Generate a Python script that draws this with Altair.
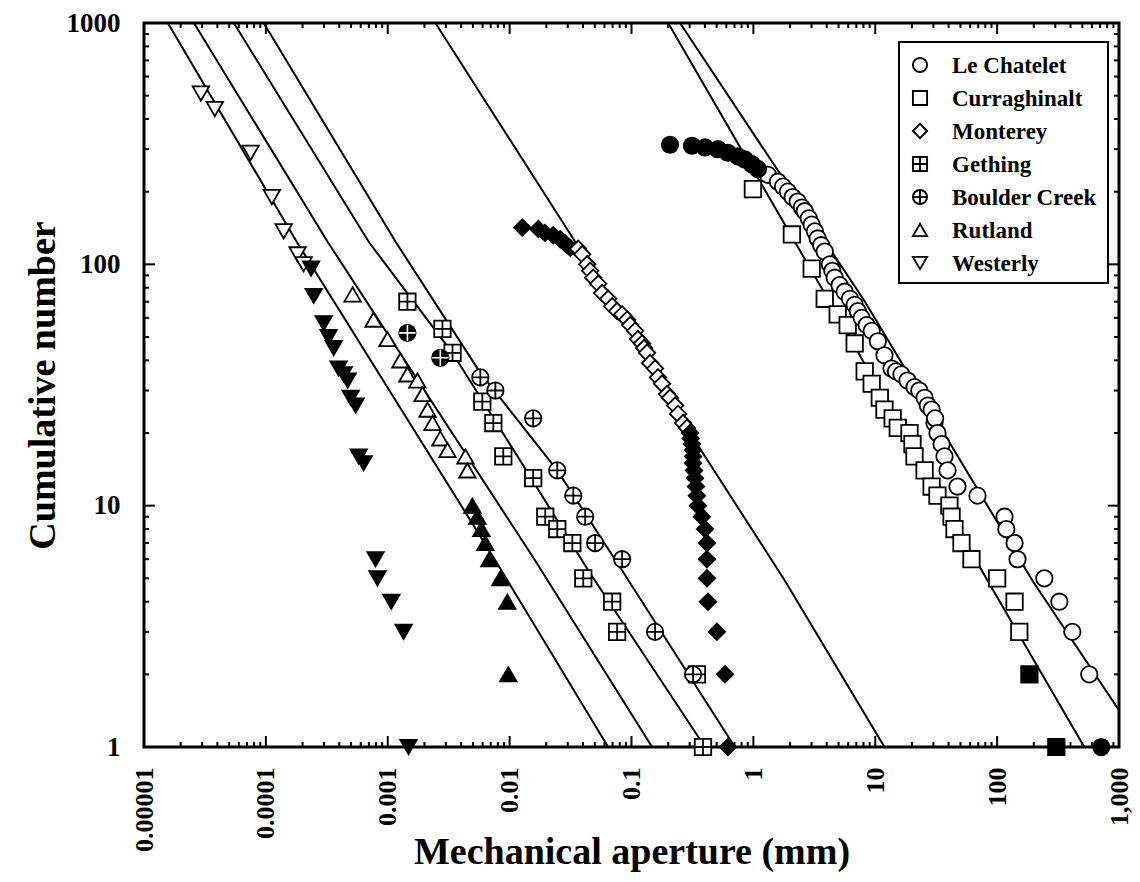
import altair as alt
import pandas as pd

# ---------------- series names / symbols ----------------
NAMES = ["Le Chatelet", "Curraghinalt", "Monterey", "Gething",
         "Boulder Creek", "Rutland", "Westerly"]
SHAPES = ["circle", "square", "diamond",
          "M-1,-1H1V1H-1Z M0,-1V1 M-1,0H1",
          "M-1,0A1,1,0,1,0,1,0A1,1,0,1,0,-1,0Z M0,-1V1 M-1,0H1",
          "triangle-up", "triangle-down"]

# ---------------- data (aperture mm, cumulative number) ----------------
LEC_OPEN_X = [1.315, 1.59, 1.75, 1.92, 2.1, 2.31, 2.5, 2.64, 2.85, 3.01, 3.2, 3.37, 3.6,
              3.85, 4.24, 4.45, 4.65, 5.1, 5.61, 6.2, 6.78, 7.2, 7.74, 8.5, 9.35, 10.5,
              11.9, 13.6, 14.8, 16.4, 18.4, 21, 23, 25.4, 27, 29, 30.6, 31, 32.4, 35,
              37, 39.2, 47.3, 69, 115, 119, 139, 147, 244, 324, 414, 570]
LEC_OPEN_Y = [235, 220, 210, 200, 190, 182, 172, 166, 155, 146, 137, 128, 120,
              113, 100, 94, 88, 82, 77, 72, 68, 64, 60, 56, 53, 48,
              42, 37, 36, 35, 33, 31, 30, 28, 26, 25, 22, 23, 20, 18,
              16, 14, 12, 11, 9, 8, 7, 6, 5, 4, 3, 2]
LEC_FILL_X = [0.207, 0.313, 0.401, 0.512, 0.618, 0.746, 0.851, 0.972, 1.09, 715]
LEC_FILL_Y = [313, 310, 305, 300, 290, 280, 272, 260, 248, 1]

CUR_OPEN_X = [0.991, 2.07, 3.01, 3.85, 4.92, 5.94, 6.78, 8.19, 9.35, 10.9,
              11.9, 13.9, 15.3, 19.1, 20.2, 21, 25.4, 29, 32.4, 40.6,
              42.3, 44.7, 51, 61.6, 100, 139, 152]
CUR_OPEN_Y = [205, 133, 96, 72, 62, 56, 47, 36, 32, 28,
              25, 23, 21, 20, 18, 16, 14, 12, 11, 10,
              9, 8, 7, 6, 5, 4, 3]
CUR_FILL_X = [184, 306]
CUR_FILL_Y = [2, 1]

MON_FILL_TOP_X = [0.0127, 0.0172, 0.0195, 0.0228, 0.026, 0.0286, 0.0315]
MON_FILL_TOP_Y = [142, 140, 135, 132, 127, 122, 117]
MON_OPEN_X = [0.0365, 0.0394, 0.0433, 0.0458, 0.0485, 0.0533, 0.0574, 0.0643,
              0.0694, 0.0762, 0.0838, 0.092, 0.0975, 0.107, 0.113, 0.122,
              0.127, 0.134, 0.142, 0.156, 0.165, 0.178, 0.196, 0.207,
              0.228, 0.241, 0.265, 0.285]
MON_OPEN_Y = [116, 110, 100, 94, 88, 83, 76, 72,
              67, 64, 62, 59, 56, 53, 49, 47,
              45, 43, 39, 37, 34, 32, 29, 28,
              26, 24, 22, 21]
MON_FILL_X = [0.302, 0.307, 0.313, 0.32, 0.32, 0.32, 0.326, 0.332, 0.338, 0.344,
              0.351, 0.378, 0.401, 0.416, 0.416, 0.416, 0.424, 0.502, 0.585, 0.618]
MON_FILL_Y = [20, 19, 18, 17, 16, 15, 14, 13, 12, 11,
              10, 9, 8, 7, 6, 5, 4, 3, 2, 1]

GET_X = [1.45e-3, 2.81e-3, 3.40e-3, 5.97e-3, 7.35e-3, 8.87e-3, 0.0156, 0.0196,
         0.0246, 0.0327, 0.0402, 0.0694, 0.0762, 0.344, 0.386]
GET_Y = [70, 54, 43, 27, 22, 16, 13, 9, 8, 7, 5, 4, 3, 2, 1]

BOU_OPEN_X = [5.75e-3, 7.64e-3, 0.0156, 0.0246, 0.0333, 0.0417, 0.0503, 0.0838, 0.156, 0.32]
BOU_OPEN_Y = [34, 30, 23, 14, 11, 9, 7, 6, 3, 2]
BOU_FILL_X = [1.45e-3, 2.70e-3]
BOU_FILL_Y = [52, 41]

RUT_OPEN_X = [5.15e-4, 7.65e-4, 9.95e-4, 1.27e-3, 1.45e-3, 1.75e-3, 1.93e-3,
              2.12e-3, 2.33e-3, 2.70e-3, 3.09e-3, 4.34e-3, 4.5e-3]
RUT_OPEN_Y = [75, 59, 49, 40, 35, 33, 29, 25, 22, 19, 17, 16, 14]
RUT_FILL_X = [4.95e-3, 5.43e-3, 5.87e-3, 6.32e-3, 6.82e-3, 8.39e-3, 9.57e-3, 9.75e-3]
RUT_FILL_Y = [10, 9, 8, 7, 6, 5, 4, 2]

WES_OPEN_X = [2.93e-5, 3.81e-5, 7.5e-5, 1.12e-4, 1.40e-4, 1.82e-4, 2.04e-4]
WES_OPEN_Y = [510, 440, 290, 190, 137, 110, 100]
WES_FILL_X = [2.35e-4, 2.47e-4, 2.98e-4, 3.27e-4, 3.6e-4, 3.95e-4, 4.35e-4, 4.69e-4,
              4.96e-4, 5.45e-4, 5.77e-4, 6.34e-4, 7.94e-4, 8.24e-4, 1.07e-3, 1.35e-3, 1.48e-3]
WES_FILL_Y = [96, 74, 57, 50, 45, 37, 35, 33, 28, 26, 16, 15, 6, 5, 4, 3, 1]

# fitted curves
FIT_WES_X = [1.57e-5, 1.79e-4, 7.64e-3, 0.0643]
FIT_WES_Y = [1000, 124, 5.93, 1]
FIT_RUT_X = [2.57e-5, 3.21e-4, 0.0162, 0.1476]
FIT_RUT_Y = [1000, 124, 5.93, 1]
FIT_GET_X = [5.46e-5, 6.97e-4, 3.40e-3, 0.01422, 0.0442, 0.401]
FIT_GET_Y = [1000, 124, 42.9, 13.6, 5.39, 1]
FIT_BOU_X = [9.6e-5, 1.16e-3, 5.75e-3, 0.0246, 0.0838, 0.705]
FIT_BOU_Y = [1000, 124, 35.5, 14.0, 5.39, 1]
FIT_MON_X = [2.46e-3, 0.0345, 0.320, 1.81, 11.9]
FIT_MON_Y = [1000, 124, 19.1, 4.9, 1]
FIT_CUR_X = [0.2, 3.64, 83.4, 519]
FIT_CUR_Y = [1000, 79.6, 4.9, 1]
FIT_LEC_X = [0.25, 8.19, 194.6, 1000]
FIT_LEC_Y = [1000, 70.3, 4.9, 1.42]

# axis ticks
X_MAJOR = [1e-5, 1e-4, 1e-3, 1e-2, 1e-1, 1, 10, 100, 1000]
X_LABELS = ["0.00001", "0.0001", "0.001", "0.01", "0.1", "1", "10", "100", "1,000"]
Y_MAJOR = [1, 10, 100, 1000]
Y_LABELS = ["1", "10", "100", "1000"]
MULTS = [2, 3, 4, 5, 6, 7, 8, 9]

# ---------------- tables ----------------
rows = []
def add(name, xs, ys, filled):
    for a, b in zip(xs, ys):
        rows.append({"series": name, "x": a, "y": b, "filled": filled})

add("Curraghinalt", CUR_OPEN_X, CUR_OPEN_Y, False)
add("Curraghinalt", CUR_FILL_X, CUR_FILL_Y, True)
add("Le Chatelet", LEC_OPEN_X, LEC_OPEN_Y, False)
add("Le Chatelet", LEC_FILL_X, LEC_FILL_Y, True)
add("Monterey", MON_FILL_TOP_X, MON_FILL_TOP_Y, True)
add("Monterey", MON_OPEN_X, MON_OPEN_Y, False)
add("Monterey", MON_FILL_X, MON_FILL_Y, True)
add("Gething", GET_X, GET_Y, False)
add("Boulder Creek", BOU_OPEN_X, BOU_OPEN_Y, False)
add("Boulder Creek", BOU_FILL_X, BOU_FILL_Y, True)
add("Rutland", RUT_OPEN_X, RUT_OPEN_Y, False)
add("Rutland", RUT_FILL_X, RUT_FILL_Y, True)
add("Westerly", WES_OPEN_X, WES_OPEN_Y, False)
add("Westerly", WES_FILL_X, WES_FILL_Y, True)
df = pd.DataFrame(rows)
df["order"] = range(len(df))

fits = []
for fid, xs, ys in [("w", FIT_WES_X, FIT_WES_Y), ("r", FIT_RUT_X, FIT_RUT_Y),
                    ("g", FIT_GET_X, FIT_GET_Y), ("b", FIT_BOU_X, FIT_BOU_Y),
                    ("m", FIT_MON_X, FIT_MON_Y), ("c", FIT_CUR_X, FIT_CUR_Y),
                    ("l", FIT_LEC_X, FIT_LEC_Y)]:
    for a, b in zip(xs, ys):
        fits.append({"fit": fid, "x": a, "y": b})
fdf = pd.DataFrame(fits)

x_minor = [m * d for d in X_MAJOR[:-1] for m in MULTS]
y_minor = [m * d for d in Y_MAJOR[:-1] for m in MULTS]

W, H = 975, 724
FONT = "Liberation Serif"
XT = "Mechanical aperture (mm)"
YT = "Cumulative number"
PT_SIZE = 270
xscale = alt.Scale(type="log", domain=[1e-5, 1000], nice=False)
yscale = alt.Scale(type="log", domain=[1, 1000], nice=False)
shape_scale = alt.Scale(domain=NAMES, range=SHAPES)

x_label_expr = "[" + ",".join("'%s'" % s for s in X_LABELS) + "][round(log(datum.value)/LN10)+5]"
y_label_expr = "[" + ",".join("'%s'" % s for s in Y_LABELS) + "][round(log(datum.value)/LN10)]"

xaxis = alt.Axis(values=X_MAJOR, labelExpr=x_label_expr, labelAngle=-90, labelPadding=20,
                 labelFlush=False, labelOverlap=False, title=XT,
                 titleBaseline="alphabetic", titleY=116)
yaxis = alt.Axis(values=Y_MAJOR, labelExpr=y_label_expr, labelPadding=24, labelFontSize=27,
                 labelFlush=False, labelOverlap=False, title=YT,
                 titleBaseline="alphabetic", titleX=-90, titleAngle=-90)

lines = alt.Chart(fdf).mark_line(color="black", strokeWidth=2, clip=True).encode(
    x=alt.X("x:Q", scale=xscale, axis=xaxis, title=XT),
    y=alt.Y("y:Q", scale=yscale, axis=yaxis, title=YT),
    detail="fit:N",
)

points = alt.Chart(df).mark_point(filled=False, size=PT_SIZE, strokeWidth=1.8, opacity=1,
                                  color="black").encode(
    x=alt.X("x:Q", scale=xscale, title=XT),
    y=alt.Y("y:Q", scale=yscale, title=YT),
    shape=alt.Shape("series:N", scale=shape_scale, legend=None),
    fill=alt.condition("datum.filled", alt.value("black"), alt.value("white")),
    order="order:Q",
)

crosses = alt.Chart(df).transform_filter(
    "datum.filled && datum.series == 'Boulder Creek'"
).mark_point(shape="M0,-1V1 M-1,0H1", size=PT_SIZE, stroke="white", strokeWidth=1.6,
             filled=False, opacity=1).encode(
    x=alt.X("x:Q", scale=xscale, title=XT),
    y=alt.Y("y:Q", scale=yscale, title=YT),
)

def xticks(vals, length):
    base = alt.Chart(pd.DataFrame({"x": vals}))
    enc_x = alt.X("x:Q", scale=xscale, title=XT)
    bottom = base.mark_rule(color="black", strokeWidth=2).encode(
        x=enc_x, y=alt.value(H), y2=alt.value(H - length))
    top = base.mark_rule(color="black", strokeWidth=2).encode(
        x=enc_x, y=alt.value(0), y2=alt.value(length))
    return [bottom, top]

def yticks(vals, length):
    base = alt.Chart(pd.DataFrame({"y": vals}))
    enc_y = alt.Y("y:Q", scale=yscale, title=YT)
    left = base.mark_rule(color="black", strokeWidth=2).encode(
        y=enc_y, x=alt.value(0), x2=alt.value(length))
    right = base.mark_rule(color="black", strokeWidth=2).encode(
        y=enc_y, x=alt.value(W), x2=alt.value(W - length))
    return [left, right]

tick_layers = xticks(X_MAJOR, 11) + xticks(x_minor, 5) + yticks(Y_MAJOR, 11) + yticks(y_minor, 5)

# ---------------- hand-built legend box (layout in pixels) ----------------
LEG_X0, LEG_X1, LEG_Y0, LEG_Y1 = 755, 964, 19, 260
LEG_SYM_X, LEG_TXT_X, LEG_ROW0, LEG_DY = 776, 808, 42, 33
legend_layers = [
    alt.Chart(pd.DataFrame({"k": [0]})).mark_rect(fill="white", stroke="black", strokeWidth=2).encode(
        x=alt.value(LEG_X0), x2=alt.value(LEG_X1), y=alt.value(LEG_Y0), y2=alt.value(LEG_Y1))
]
for i, name in enumerate(NAMES):
    one = alt.Chart(pd.DataFrame({"series": [name]}))
    legend_layers.append(one.mark_point(shape=SHAPES[i], size=200, filled=False, fill="white",
                                        stroke="black", strokeWidth=1.9, opacity=1).encode(
        x=alt.value(LEG_SYM_X), y=alt.value(LEG_ROW0 + LEG_DY * i)))
    legend_layers.append(one.mark_text(align="left", baseline="middle", font=FONT, fontSize=23,
                                       fontWeight="bold", color="black").encode(
        x=alt.value(LEG_TXT_X), y=alt.value(LEG_ROW0 + LEG_DY * i + 1), text="series:N"))

chart = alt.layer(lines, *tick_layers, points, crosses, *legend_layers).properties(
    width=W, height=H,
    autosize=alt.AutoSizeParams(type="none"),
    padding={"left": 136, "top": 15, "right": 13, "bottom": 126},
    background="white",
).configure_view(stroke="black", strokeWidth=3).configure_axis(
    domain=False, ticks=False, grid=False,
    labelFont=FONT, labelFontSize=26, labelFontWeight="bold", labelColor="black",
    titleFont=FONT, titleFontSize=38, titleFontWeight="bold", titleColor="black",
)

chart.save("out.html", embed_options={"renderer": "svg", "actions": False})
